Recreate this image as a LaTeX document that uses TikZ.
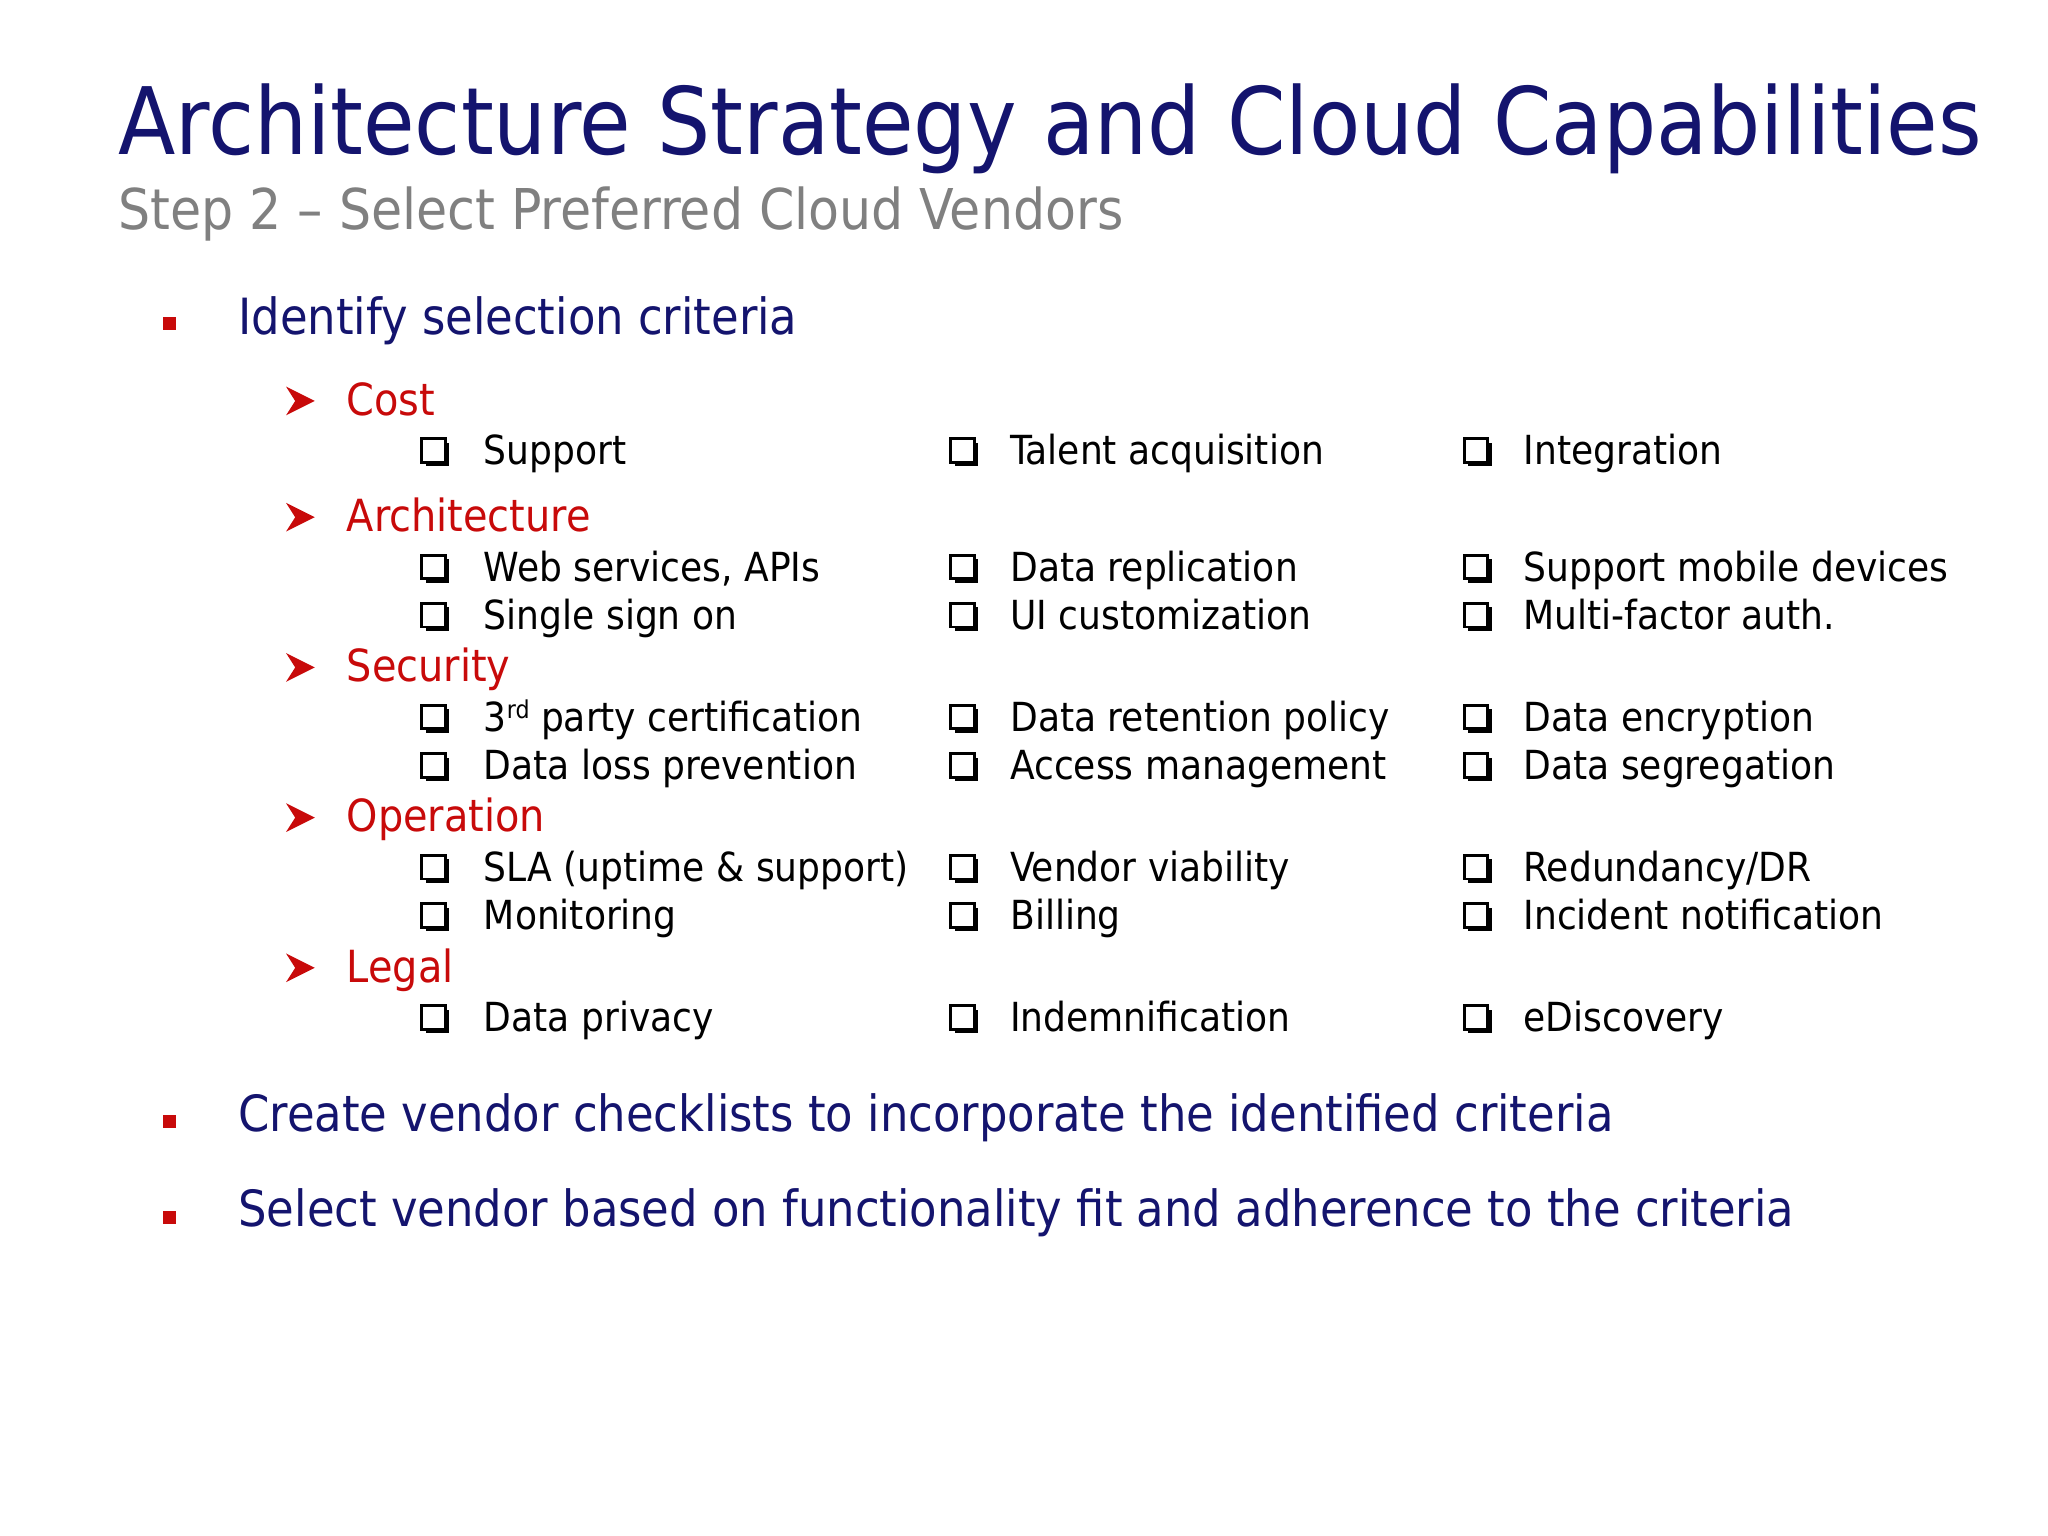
\documentclass[tikz,border=0pt]{standalone}
\usepackage{fontspec}
\setmainfont{DejaVu Sans Condensed}
\definecolor{navy}{RGB}{20,20,110}
\definecolor{redt}{RGB}{200,10,10}
\definecolor{grayt}{RGB}{128,128,128}
\begin{document}
\begin{tikzpicture}[x=0.013061cm,y=-0.013061cm,
  title/.style={anchor=base west,inner sep=0,text=navy,font=\fontsize{26.5}{32}\selectfont},
  sub/.style={anchor=base west,inner sep=0,text=grayt,font=\fontsize{16}{20}\selectfont},
  lone/.style={anchor=base west,inner sep=0,text=navy,font=\fontsize{14.2}{17}\selectfont},
  ltwo/.style={anchor=base west,inner sep=0,text=redt,font=\fontsize{12.6}{15}\selectfont},
  item/.style={anchor=base west,inner sep=0,text=black,font=\fontsize{11.4}{14}\selectfont},
  rbul/.style={fill=redt,minimum size=0.13cm,inner sep=0},
  arr/.style={fill=redt,draw=redt}]
\useasboundingbox (0,0) rectangle (1568,1176);
\fill[white] (0,0) rectangle (1568,1176);
\node[title] (t) at (90,118) {Architecture Strategy and Cloud Capabilities};
\node[sub] (s) at (90,176) {Step 2 – Select Preferred Cloud Vendors};
\node[rbul] (b1) at (130,248) {};
\node[lone] (l1) at (182,256) {Identify selection criteria};
\node[rbul] (b2) at (130,859) {};
\node[lone] (l2) at (182,866) {Create vendor checklists to incorporate the identified criteria};
\node[rbul] (b3) at (130,932) {};
\node[lone] (l3) at (182,939) {Select vendor based on functionality fit and adherence to the criteria};
\foreach \n/\y/\t in {c/318/Cost,a/407/Architecture,s/522/Security,o/637/Operation,g/752/Legal}{
  \fill[redt] (219,\y-22) -- (241,\y-11) -- (219,\y) -- (226,\y-11) -- cycle;
  \node[ltwo] (h\n) at (265,\y) {\t};
}
\newcommand\cbx[2]{\draw[line width=0.8pt] (#1-10,#2-20) rectangle (#1+8,#2-2);
  \fill (#1-7,#2-2) rectangle (#1+11,#2+1); \fill (#1+8,#2-17) rectangle (#1+11,#2+1);}
\foreach \y/\A/\B/\C in {
 356/Support/Talent acquisition/Integration,
 445/{Web services, APIs}/Data replication/Support mobile devices,
 482/Single sign on/UI customization/Multi-factor auth.,
 560/{3\raisebox{0.6ex}{\scriptsize rd} party certification}/Data retention policy/Data encryption,
 597/Data loss prevention/Access management/Data segregation,
 675/SLA (uptime \& support)/Vendor viability/{Redundancy/DR},
 712/Monitoring/Billing/Incident notification,
 790/Data privacy/Indemnification/eDiscovery}{
  \cbx{333}{\y}\cbx{738}{\y}\cbx{1131}{\y}
  \node[item] (x\y a) at (370,\y) {\A};
  \node[item] (x\y b) at (773,\y) {\B};
  \node[item] (x\y c) at (1166,\y) {\C};
}
\end{tikzpicture}
\end{document}
